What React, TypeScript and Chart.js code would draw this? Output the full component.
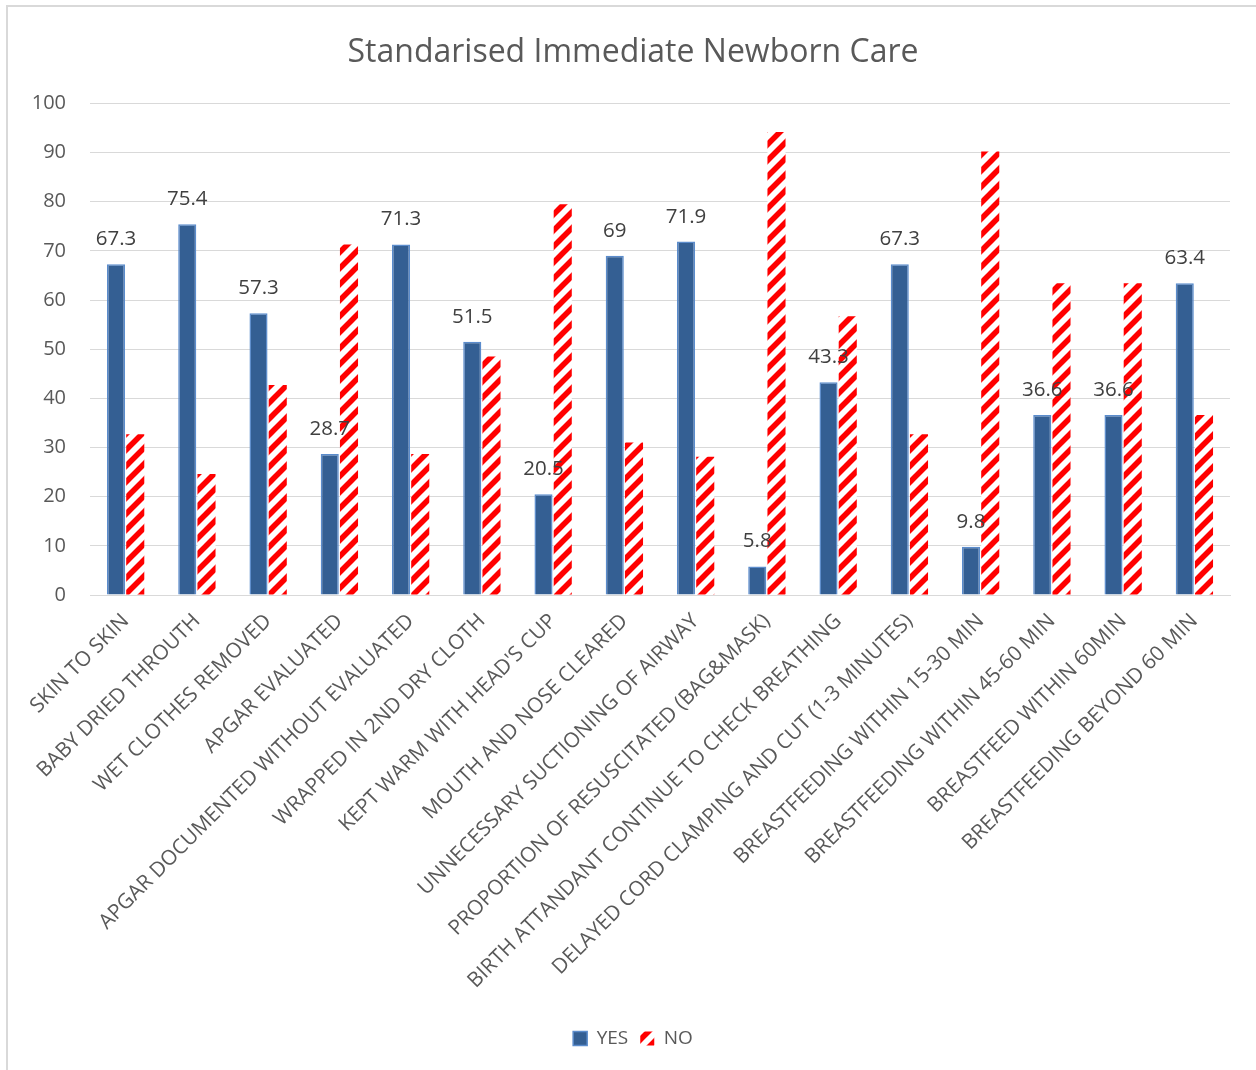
import React, { useEffect, useRef } from "react";
import { Chart, registerables } from "chart.js";

Chart.register(...registerables);

const categories = [
  "SKIN TO SKIN",
  "BABY DRIED THROUTH",
  "WET CLOTHES REMOVED",
  "APGAR EVALUATED",
  "APGAR DOCUMENTED WITHOUT EVALUATED",
  "WRAPPED IN 2ND DRY CLOTH",
  "KEPT WARM WITH HEAD'S CUP",
  "MOUTH AND NOSE CLEARED",
  "UNNECESSARY SUCTIONING OF AIRWAY",
  "PROPORTION OF RESUSCITATED (BAG&MASK)",
  "BIRTH ATTANDANT CONTINUE TO CHECK BREATHING",
  "DELAYED CORD CLAMPING AND CUT (1-3 MINUTES)",
  "BREASTFEEDING WITHIN 15-30 MIN",
  "BREASTFEEDING WITHIN 45-60 MIN",
  "BREASTFEED WITHIN 60MIN",
  "BREASTFEEDING BEYOND 60 MIN",
];

const yesValues = [67.3, 75.4, 57.3, 28.7, 71.3, 51.5, 20.5, 69, 71.9, 5.8, 43.3, 67.3, 9.8, 36.6, 36.6, 63.4];
const noValues = [32.7, 24.6, 42.7, 71.3, 28.7, 48.5, 79.5, 31, 28.1, 94.2, 56.7, 32.7, 90.2, 63.4, 63.4, 36.6];

const seriesNames = ["YES", "NO"];
const titleText = "Standarised Immediate Newborn Care";

const FONT = "'Open Sans', 'Noto Sans', sans-serif";
const TEXT = "#595959";

function makeStripePattern(): CanvasPattern | string {
  const c = document.createElement("canvas");
  const s = 16;
  c.width = s;
  c.height = s;
  const ctx = c.getContext("2d");
  if (!ctx) return "#ff0000";
  ctx.fillStyle = "#ffffff";
  ctx.fillRect(0, 0, s, s);
  ctx.strokeStyle = "#ff0000";
  ctx.lineWidth = 5.6;
  ctx.lineCap = "square";
  const lines = [
    [-s / 2, s / 2, s / 2, -s / 2],
    [0, s, s, 0],
    [s / 2, s * 1.5, s * 1.5, s / 2],
  ];
  for (const [x1, y1, x2, y2] of lines) {
    ctx.beginPath();
    ctx.moveTo(x1, y1);
    ctx.lineTo(x2, y2);
    ctx.stroke();
  }
  const p = ctx.createPattern(c, "repeat");
  return p || "#ff0000";
}

const labelPlugin = {
  id: "yesLabels",
  afterDatasetsDraw(chart: any) {
    const ctx = chart.ctx;
    const meta = chart.getDatasetMeta(0);
    ctx.save();
    ctx.font = `20.5px ${FONT}`;
    ctx.fillStyle = "#404040";
    ctx.textAlign = "center";
    ctx.textBaseline = "alphabetic";
    meta.data.forEach((el: any, i: number) => {
      ctx.fillText(String(yesValues[i]), el.x, el.y - 19);
    });
    ctx.restore();
  },
};

export default function App() {
  const ref = useRef<HTMLCanvasElement | null>(null);

  useEffect(() => {
    if (!ref.current) return;
    const stripe = makeStripePattern();
    const chart = new Chart(ref.current, {
      type: "bar",
      data: {
        labels: categories,
        datasets: [
          {
            label: seriesNames[0],
            data: yesValues,
            backgroundColor: "#345f93",
            borderColor: "#5b8ccc",
            borderWidth: 1.5,
            categoryPercentage: 0.54,
            barPercentage: 0.94,
          },
          {
            label: seriesNames[1],
            data: noValues,
            backgroundColor: stripe as any,
            borderWidth: 0,
            categoryPercentage: 0.54,
            barPercentage: 0.94,
          },
        ],
      },
      options: {
        animation: false,
        responsive: false,
        maintainAspectRatio: false,
        layout: { padding: { left: 10, right: 0, top: 0, bottom: 12 } },
        plugins: {
          title: {
            display: true,
            text: titleText,
            color: TEXT,
            font: { family: FONT, size: 32, weight: "normal" },
            padding: { top: 34, bottom: 31 },
          },
          legend: {
            position: "bottom",
            labels: {
              color: TEXT,
              font: { family: FONT, size: 19 },
              boxWidth: 14,
              boxHeight: 14,
              padding: 12,
            },
          },
          tooltip: { enabled: false },
        },
        scales: {
          x: {
            grid: { display: false },
            border: { color: "#d9d9d9", width: 1 },
            ticks: {
              color: TEXT,
              font: { family: FONT, size: 20.8 },
              minRotation: 45,
              maxRotation: 45,
              autoSkip: false,
              padding: 6,
            },
            afterFit(scale: any) {
              scale.height = 422;
            },
          },
          y: {
            min: 0,
            max: 100,
            grid: { color: "#d9d9d9", drawTicks: false },
            border: { display: false },
            ticks: {
              stepSize: 10,
              color: TEXT,
              font: { family: FONT, size: 20 },
              padding: 24,
            },
            afterFit(scale: any) {
              scale.width = 80;
            },
          },
          yRightSpacer: {
            type: "linear",
            position: "right",
            display: true,
            grid: { display: false, drawTicks: false },
            border: { display: false },
            ticks: { display: false },
            afterFit(scale: any) {
              scale.width = 26;
            },
          },
        },
      },
      plugins: [labelPlugin],
    });
    return () => chart.destroy();
  }, []);

  return (
    <div style={{ position: "fixed", left: 0, top: 0, width: 1256, height: 1070, background: "#fff", overflow: "hidden" }}>
      <canvas ref={ref} width={1256} height={1070} style={{ position: "absolute", left: 0, top: 0 }} />
      <div
        style={{
          position: "absolute",
          left: 6,
          top: 5,
          width: 1300,
          height: 1100,
          border: "2px solid #d9d9d9",
          pointerEvents: "none",
        }}
      />
    </div>
  );
}
